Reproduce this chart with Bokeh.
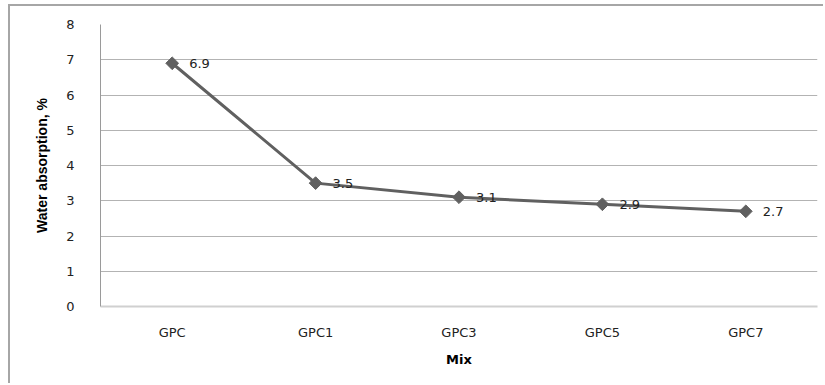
import math
from bokeh.plotting import figure
from bokeh.models import ColumnDataSource, FactorRange, Range1d, LabelSet, FixedTicker
from bokeh.core.properties import value
from bokeh.embed import file_html
from bokeh.resources import INLINE

mixes = ["GPC", "GPC1", "GPC3", "GPC5", "GPC7"]
water_absorption = [6.9, 3.5, 3.1, 2.9, 2.7]
labels = ["6.9", "3.5", "3.1", "2.9", "2.7"]
y_ticks = [0, 1, 2, 3, 4, 5, 6, 7, 8]

src = ColumnDataSource(dict(x=mixes, y=water_absorption, lab=labels))

p = figure(width=815, height=379, x_range=FactorRange(*mixes, range_padding=0),
           y_range=Range1d(0, 8), output_backend="svg", toolbar_location=None,
           min_border_left=90, min_border_right=8, min_border_top=18, min_border_bottom=79,
           margin=(4, 0, 0, 8))
p.styles = {"border-top": "2px solid #a6a6a6", "border-left": "2px solid #a6a6a6"}
p.outline_line_color = None
p.background_fill_color = "white"
p.border_fill_color = "white"

p.xgrid.grid_line_color = None
p.ygrid.grid_line_color = "#b3b3b3"
p.ygrid.grid_line_width = 1
p.yaxis.ticker = FixedTicker(ticks=y_ticks)

for ax in (p.xaxis, p.yaxis):
    ax.major_tick_line_color = None
    ax.minor_tick_line_color = None
    ax.major_label_text_font = "DejaVu Sans"
    ax.major_label_text_font_size = "13px"
    ax.major_label_text_color = "#222222"

p.yaxis.axis_line_color = "#9a9a9a"
p.yaxis.axis_line_width = 1
p.yaxis.major_label_standoff = 20
p.yaxis.axis_label = "Water absorption, %"
p.yaxis.axis_label_text_font = "Liberation Sans"
p.yaxis.axis_label_text_font_style = "bold"
p.yaxis.axis_label_text_font_size = "14px"
p.yaxis.axis_label_text_color = "#000000"
p.yaxis.axis_label_standoff = 13

p.xaxis.axis_line_color = "#d0d0d0"
p.xaxis.axis_line_width = 2
p.xaxis.major_label_standoff = 12
p.xaxis.axis_label = "Mix"
p.xaxis.axis_label_text_font = "DejaVu Sans"
p.xaxis.axis_label_text_font_style = "bold"
p.xaxis.axis_label_text_font_size = "13px"
p.xaxis.axis_label_text_color = "#000000"
p.xaxis.axis_label_standoff = 9

p.line("x", "y", source=src, line_color="#606060", line_width=3)
p.scatter("x", "y", source=src, marker="square", angle=math.pi / 4, size=9,
          fill_color="#606060", line_color="#606060")

p.add_layout(LabelSet(x="x", y="y", text="lab", source=src, x_offset=17, y_offset=0,
                      text_baseline="middle", text_font_size=value("13px"),
                      text_font=value("DejaVu Sans"), text_color="#222222"))

open("out.html", "w").write(file_html(p, INLINE))
